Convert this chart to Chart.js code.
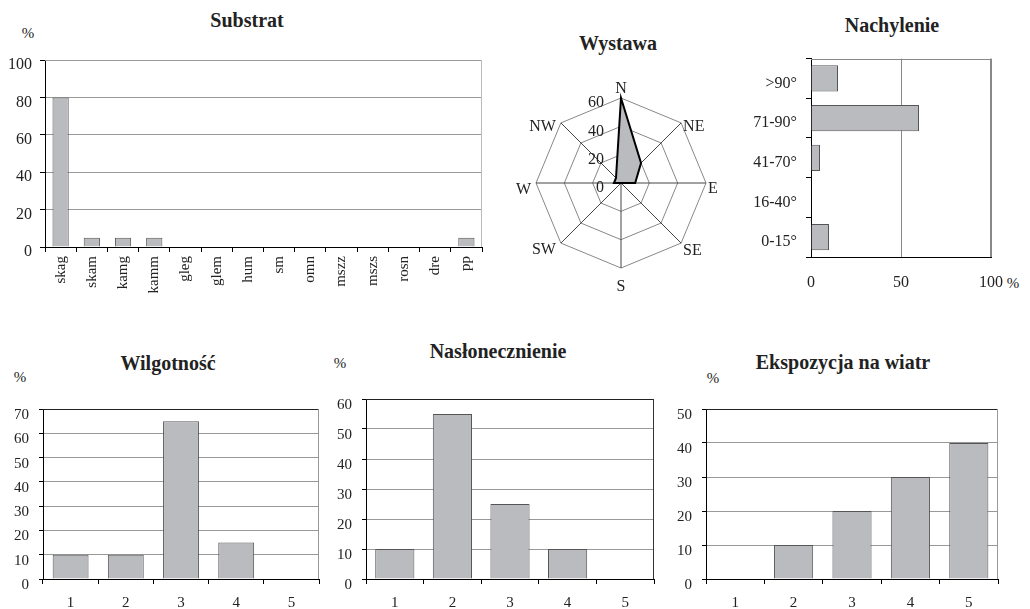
<!DOCTYPE html>
<html><head><meta charset="utf-8">
<script src="https://cdn.jsdelivr.net/npm/chart.js@4.4.0/dist/chart.umd.min.js"></script>
<style>
html,body{margin:0;padding:0;background:#fff;}
body{width:1030px;height:609px;position:relative;overflow:hidden;font-family:"Liberation Serif","DejaVu Serif",serif;color:#222;}
canvas{position:absolute;}
.t{position:absolute;transform:translate(-50%,-50%);white-space:nowrap;font-weight:bold;font-size:20px;line-height:1;}
.p{position:absolute;transform:translate(-50%,-50%);white-space:nowrap;font-size:15px;line-height:1;}
</style></head><body>
<div class="t" style="left:247px;top:20px">Substrat</div>
<div class="t" style="left:618px;top:43px">Wystawa</div>
<div class="t" style="left:892px;top:25px">Nachylenie</div>
<div class="t" style="left:168px;top:363px">Wilgotność</div>
<div class="t" style="left:498px;top:351px">Nasłonecznienie</div>
<div class="t" style="left:843px;top:362px">Ekspozycja na wiatr</div>
<div class="p" style="left:28px;top:33px">%</div>
<div class="p" style="left:1013px;top:283px">%</div>
<div class="p" style="left:20px;top:377px">%</div>
<div class="p" style="left:340px;top:363px">%</div>
<div class="p" style="left:713px;top:378px">%</div>

<canvas id="cSub" width="500" height="310" style="left:0;top:0"></canvas>
<canvas id="cWys" width="230" height="230" style="left:506px;top:68px"></canvas>
<canvas id="cNach" width="300" height="270" style="left:730px;top:40px"></canvas>
<canvas id="cWil" width="340" height="219" style="left:0;top:390px"></canvas>
<canvas id="cNas" width="350" height="229" style="left:330px;top:380px"></canvas>
<canvas id="cEks" width="360" height="219" style="left:670px;top:390px"></canvas>

<script>
// ---- data ----
const substratLabels = ['skag','skam','kamg','kamm','gleg','glem','hum','sm','omn','mszz','mszs','rosn','dre','pp'];
const substratValues = [80,5,5,5,0,0,0,0,0,0,0,0,0,5];
const wystawaLabels = ['N','NE','E','SE','S','SW','W','NW'];
const wystawaValues = [60,20,10,0,0,0,5,5];
const wystawaTicks = [0,20,40,60];
const nachylenieLabels = ['>90°','71-90°','41-70°','16-40°','0-15°'];
const nachylenieValues = [15,60,5,0,10];
const classLabels = ['1','2','3','4','5'];
const wilgotnoscValues = [10,10,65,15,0];
const naslonecznienieValues = [10,55,25,10,0];
const ekspozycjaValues = [0,10,20,30,40];

// ---- styles ----
const FONT = 'Liberation Serif';
const FILL = '#babbbf';
const EDGE = '#555';
const GRID = '#999';
const TXT = '#222';

const framePlugin = {
  id: 'frame',
  beforeDatasetsDraw(chart, args, o) {
    if (!o || !o.on) return;
    const a = chart.chartArea, ctx = chart.ctx;
    ctx.save();
    ctx.lineWidth = 1;
    ctx.strokeStyle = o.top;
    ctx.beginPath(); ctx.moveTo(a.left, Math.round(a.top) + 0.5); ctx.lineTo(a.right, Math.round(a.top) + 0.5); ctx.stroke();
    ctx.strokeStyle = o.right;
    ctx.beginPath(); ctx.moveTo(Math.round(a.right) - 0.5, a.top); ctx.lineTo(Math.round(a.right) - 0.5, a.bottom); ctx.stroke();
    ctx.restore();
  }
};
Chart.register(framePlugin);

function barChart(id, labels, values, cfg) {
  return new Chart(document.getElementById(id), {
    type: 'bar',
    data: { labels, datasets: [{ data: values, backgroundColor: FILL, borderColor: EDGE, borderWidth: 1,
      barPercentage: cfg.bp, categoryPercentage: 1 }] },
    options: {
      responsive: false, animation: false, events: [],
      layout: { padding: cfg.pad },
      plugins: { legend: { display: false }, tooltip: { enabled: false }, frame: cfg.frame },
      scales: {
        x: {
          grid: { drawOnChartArea: false, drawTicks: true, tickLength: 5, tickColor: '#000', offset: true },
          border: { color: '#000', width: 1 },
          ticks: { font: { family: FONT, size: cfg.xfs }, color: TXT, padding: cfg.xpad,
            minRotation: cfg.rot || 0, maxRotation: cfg.rot || 0, autoSkip: false },
          afterFit: s => { s.height = cfg.xh; }
        },
        y: {
          min: 0, max: cfg.max,
          ticks: { stepSize: cfg.step, font: { family: FONT, size: cfg.yfs }, color: TXT, padding: cfg.ypad, labelOffset: cfg.lo },
          grid: { color: GRID, lineWidth: 1, tickColor: '#000', tickLength: cfg.tl },
          border: { color: '#000', width: 1 },
          afterFit: s => { s.width = cfg.yw; }
        }
      }
    }
  });
}

// Substrat
barChart('cSub', substratLabels, substratValues, {
  bp: 0.52, pad: { top: 60, right: 18, left: 0, bottom: 0 }, xh: 63, yw: 45,
  xfs: 15, xpad: 4, rot: 90, yfs: 16, ypad: 8, lo: 5, tl: 5, max: 100, step: 20,
  frame: { on: true, top: '#999', right: '#bbb' }
});

// Wilgotność
barChart('cWil', classLabels, wilgotnoscValues, {
  bp: 0.65, pad: { top: 11, right: 21, left: 0, bottom: 0 }, xh: 30, yw: 43,
  xfs: 15, xpad: 10, yfs: 15, ypad: 10, lo: 6, tl: 4, max: 70, step: 10,
  frame: { on: true, top: '#222', right: '#999' }
});

// Nasłonecznienie
barChart('cNas', classLabels, naslonecznienieValues, {
  bp: 0.68, pad: { top: 10, right: 26, left: 0, bottom: 0 }, xh: 30, yw: 36,
  xfs: 15, xpad: 10, yfs: 15, ypad: 10, lo: 6, tl: 4, max: 60, step: 10,
  frame: { on: true, top: '#222', right: '#333' }
});

// Ekspozycja na wiatr
barChart('cEks', classLabels, ekspozycjaValues, {
  bp: 0.67, pad: { top: 11, right: 32, left: 0, bottom: 0 }, xh: 30, yw: 36,
  xfs: 15, xpad: 10, yfs: 15, ypad: 10, lo: 6, tl: 4, max: 50, step: 10,
  frame: { on: true, top: '#222', right: '#999' }
});

// Nachylenie (horizontal bars)
new Chart(document.getElementById('cNach'), {
  type: 'bar',
  data: { labels: nachylenieLabels, datasets: [{ data: nachylenieValues, backgroundColor: FILL, borderColor: EDGE,
    borderWidth: 1, barPercentage: 0.66, categoryPercentage: 1 }] },
  options: {
    indexAxis: 'y', responsive: false, animation: false, events: [],
    layout: { padding: { top: 18, right: 39, left: 0, bottom: 0 } },
    plugins: { legend: { display: false }, tooltip: { enabled: false }, frame: { on: true, top: '#888', right: '#888' } },
    scales: {
      x: {
        min: 0, max: 100,
        ticks: { stepSize: 50, font: { family: FONT, size: 16 }, color: TXT, padding: 16 },
        grid: { color: '#888', drawTicks: false },
        border: { color: '#000', width: 1 },
        afterFit: s => { s.height = 53; }
      },
      y: {
        grid: { drawOnChartArea: false, tickLength: 5, tickColor: '#000', offset: true },
        border: { color: '#000', width: 1 },
        ticks: { font: { family: FONT, size: 16 }, color: TXT, padding: 9, labelOffset: 5 },
        afterFit: s => { s.width = 81; }
      }
    }
  }
});

// Wystawa (radar)
const radarText = {
  id: 'radarText',
  afterDraw(chart) {
    const s = chart.scales.r, ctx = chart.ctx;
    if (!s) return;
    ctx.save();
    ctx.fillStyle = TXT;
    ctx.font = '16px "' + FONT + '"';
    ctx.textBaseline = 'middle';
    chart.data.labels.forEach((lab, i) => {
      const p = s.getPointPosition(i, s.drawingArea);
      const dx = p.x - s.xCenter, dy = p.y - s.yCenter;
      let x = p.x, y = p.y;
      if (Math.abs(dx) < 1) {
        ctx.textAlign = 'center';
        y += dy < 0 ? -9 : 19;
      } else if (dx > 0) {
        ctx.textAlign = 'left'; x += 2; y += (Math.abs(dy) < 1 ? 6 : (dy < 0 ? 4 : 8));
      } else {
        ctx.textAlign = 'right'; x -= 5; y += (dy < 0 ? 4 : 7);
      }
      ctx.fillText(lab, x, y);
    });
    ctx.textAlign = 'right';
    wystawaTicks.forEach(v => {
      const d = s.getDistanceFromCenterForValue(v);
      ctx.fillText(String(v), s.xCenter - 17, s.yCenter - d + 5);
    });
    ctx.restore();
  }
};

new Chart(document.getElementById('cWys'), {
  type: 'radar',
  data: { labels: wystawaLabels, datasets: [{ data: wystawaValues, backgroundColor: FILL, borderColor: '#000',
    borderWidth: 2, pointRadius: 0, fill: true, tension: 0 }] },
  options: {
    responsive: false, animation: false, events: [],
    layout: { padding: 30 },
    plugins: { legend: { display: false }, tooltip: { enabled: false } },
    scales: {
      r: {
        min: 0, max: 60,
        ticks: { display: false, stepSize: 20 },
        pointLabels: { display: false },
        grid: { color: '#888', lineWidth: 1 },
        angleLines: { color: '#444', lineWidth: 1 }
      }
    }
  },
  plugins: [radarText]
});
</script>
</body></html>
